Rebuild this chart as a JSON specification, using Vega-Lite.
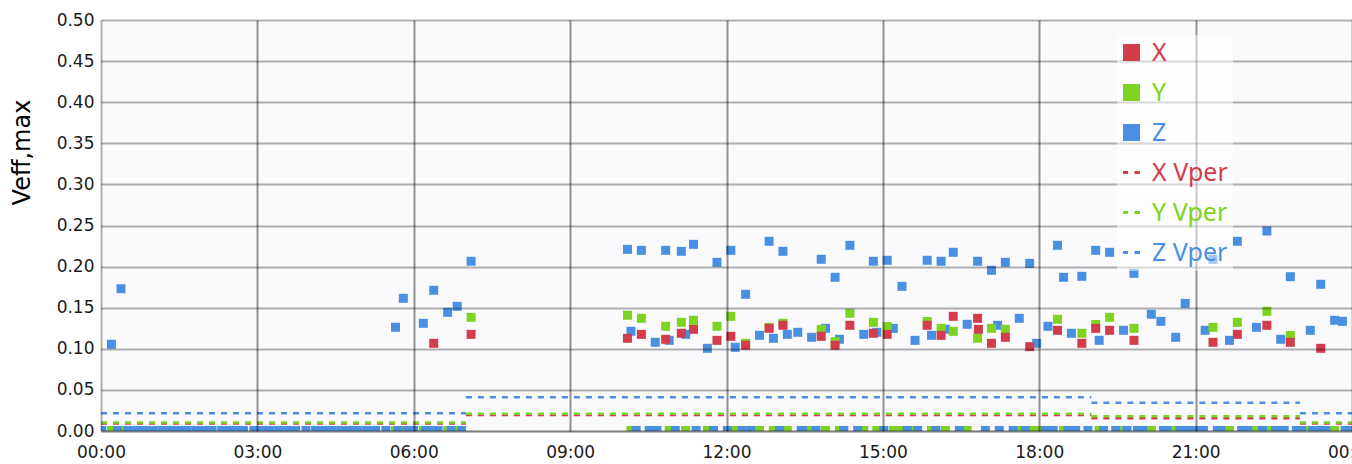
{
  "$schema": "https://vega.github.io/schema/vega-lite/v6.json",
  "width": 1251,
  "height": 411,
  "autosize": "none",
  "padding": {"left": 101, "top": 20, "right": 0, "bottom": 33},
  "background": "#ffffff",
  "config": {"view": {"fill": "#fafafd", "stroke": null}},
  "datasets": {
    "lim": [
      {"s": "X Vper", "t0": 0, "t1": 7, "v": 0.0091},
      {"s": "X Vper", "t0": 7, "t1": 19, "v": 0.0195},
      {"s": "X Vper", "t0": 19, "t1": 23, "v": 0.0154},
      {"s": "X Vper", "t0": 23, "t1": 24, "v": 0.009},
      {"s": "Y Vper", "t0": 0, "t1": 7, "v": 0.0103},
      {"s": "Y Vper", "t0": 7, "t1": 19, "v": 0.0209},
      {"s": "Y Vper", "t0": 19, "t1": 23, "v": 0.018},
      {"s": "Y Vper", "t0": 23, "t1": 24, "v": 0.0103},
      {"s": "Z Vper", "t0": 0, "t1": 7, "v": 0.0217},
      {"s": "Z Vper", "t0": 7, "t1": 19, "v": 0.0411},
      {"s": "Z Vper", "t0": 19, "t1": 23, "v": 0.0343},
      {"s": "Z Vper", "t0": 23, "t1": 24, "v": 0.0217}
    ],
    "pts": [
      {"s": "Z", "t": 0.2, "v": 0.1055}, {"s": "Z", "t": 0.383, "v": 0.1731},
      {"s": "Z", "t": 5.65, "v": 0.1262}, {"s": "Z", "t": 5.8, "v": 0.1614},
      {"s": "Z", "t": 6.183, "v": 0.131}, {"s": "Z", "t": 6.383, "v": 0.1712},
      {"s": "Z", "t": 6.65, "v": 0.1444}, {"s": "Z", "t": 6.833, "v": 0.1517},
      {"s": "Z", "t": 7.1, "v": 0.2065},
      {"s": "X", "t": 6.383, "v": 0.1067}, {"s": "X", "t": 7.1, "v": 0.1176},
      {"s": "Y", "t": 7.1, "v": 0.1383},

      {"s": "Z", "t": 10.1, "v": 0.221}, {"s": "Z", "t": 10.367, "v": 0.2198},
      {"s": "Z", "t": 10.833, "v": 0.2198}, {"s": "Z", "t": 11.133, "v": 0.2186},
      {"s": "Z", "t": 11.367, "v": 0.2271}, {"s": "Z", "t": 11.817, "v": 0.2052},
      {"s": "Z", "t": 12.083, "v": 0.2198}, {"s": "Z", "t": 12.367, "v": 0.1663},
      {"s": "Z", "t": 12.817, "v": 0.2308}, {"s": "Z", "t": 13.083, "v": 0.2186},
      {"s": "Z", "t": 13.817, "v": 0.2089}, {"s": "Z", "t": 14.083, "v": 0.187},
      {"s": "Z", "t": 14.367, "v": 0.2259}, {"s": "Z", "t": 14.817, "v": 0.2065},
      {"s": "Z", "t": 15.083, "v": 0.2077}, {"s": "Z", "t": 15.367, "v": 0.176},
      {"s": "Z", "t": 15.85, "v": 0.2077}, {"s": "Z", "t": 16.117, "v": 0.2065},
      {"s": "Z", "t": 16.35, "v": 0.2174}, {"s": "Z", "t": 16.817, "v": 0.2065},
      {"s": "Z", "t": 17.083, "v": 0.1955}, {"s": "Z", "t": 17.35, "v": 0.2052},
      {"s": "Z", "t": 17.817, "v": 0.204}, {"s": "Z", "t": 18.35, "v": 0.2259},
      {"s": "Z", "t": 18.467, "v": 0.187}, {"s": "Z", "t": 18.817, "v": 0.1882},
      {"s": "Z", "t": 19.083, "v": 0.2198}, {"s": "Z", "t": 19.35, "v": 0.2174},
      {"s": "Z", "t": 19.817, "v": 0.1918}, {"s": "Z", "t": 20.8, "v": 0.1553},
      {"s": "Z", "t": 21.333, "v": 0.2089}, {"s": "Z", "t": 21.8, "v": 0.2308},
      {"s": "Z", "t": 22.367, "v": 0.2433}, {"s": "Z", "t": 22.817, "v": 0.1877},
      {"s": "Z", "t": 23.4, "v": 0.1785},

      {"s": "Z", "t": 10.167, "v": 0.1213}, {"s": "Z", "t": 10.633, "v": 0.1079},
      {"s": "Z", "t": 10.9, "v": 0.1103}, {"s": "Z", "t": 11.217, "v": 0.1176},
      {"s": "Z", "t": 11.633, "v": 0.1006}, {"s": "Z", "t": 12.167, "v": 0.1018},
      {"s": "Z", "t": 12.633, "v": 0.1164}, {"s": "Z", "t": 12.9, "v": 0.1128},
      {"s": "Z", "t": 13.167, "v": 0.1176}, {"s": "Z", "t": 13.367, "v": 0.1201},
      {"s": "Z", "t": 13.633, "v": 0.114}, {"s": "Z", "t": 13.9, "v": 0.1249},
      {"s": "Z", "t": 14.167, "v": 0.1116}, {"s": "Z", "t": 14.633, "v": 0.1176},
      {"s": "Z", "t": 14.883, "v": 0.1201}, {"s": "Z", "t": 15.2, "v": 0.1249},
      {"s": "Z", "t": 15.617, "v": 0.1103}, {"s": "Z", "t": 15.933, "v": 0.1164},
      {"s": "Z", "t": 16.2, "v": 0.1237}, {"s": "Z", "t": 16.617, "v": 0.1298},
      {"s": "Z", "t": 17.2, "v": 0.1286}, {"s": "Z", "t": 17.617, "v": 0.1371},
      {"s": "Z", "t": 17.95, "v": 0.1067}, {"s": "Z", "t": 18.167, "v": 0.1274},
      {"s": "Z", "t": 18.617, "v": 0.1189}, {"s": "Z", "t": 19.15, "v": 0.1103},
      {"s": "Z", "t": 19.617, "v": 0.1225}, {"s": "Z", "t": 20.15, "v": 0.142},
      {"s": "Z", "t": 20.333, "v": 0.1334}, {"s": "Z", "t": 20.617, "v": 0.114},
      {"s": "Z", "t": 21.183, "v": 0.1225}, {"s": "Z", "t": 21.65, "v": 0.1103},
      {"s": "Z", "t": 22.167, "v": 0.1261}, {"s": "Z", "t": 22.633, "v": 0.1116},
      {"s": "Z", "t": 23.2, "v": 0.1225}, {"s": "Z", "t": 23.667, "v": 0.1347},
      {"s": "Z", "t": 23.817, "v": 0.1334},

      {"s": "Y", "t": 10.1, "v": 0.1408}, {"s": "Y", "t": 10.367, "v": 0.1371},
      {"s": "Y", "t": 10.833, "v": 0.1274}, {"s": "Y", "t": 11.133, "v": 0.1322},
      {"s": "Y", "t": 11.367, "v": 0.1347}, {"s": "Y", "t": 11.817, "v": 0.1274},
      {"s": "Y", "t": 12.083, "v": 0.1395}, {"s": "Y", "t": 12.367, "v": 0.1067},
      {"s": "Y", "t": 12.817, "v": 0.126}, {"s": "Y", "t": 13.083, "v": 0.131},
      {"s": "Y", "t": 13.817, "v": 0.1237}, {"s": "Y", "t": 14.083, "v": 0.1087},
      {"s": "Y", "t": 14.367, "v": 0.1432}, {"s": "Y", "t": 14.817, "v": 0.1322},
      {"s": "Y", "t": 15.083, "v": 0.1271}, {"s": "Y", "t": 15.85, "v": 0.1332},
      {"s": "Y", "t": 16.117, "v": 0.1249}, {"s": "Y", "t": 16.35, "v": 0.1213},
      {"s": "Y", "t": 16.817, "v": 0.1128}, {"s": "Y", "t": 17.083, "v": 0.1249},
      {"s": "Y", "t": 17.35, "v": 0.1237}, {"s": "Y", "t": 18.35, "v": 0.1359},
      {"s": "Y", "t": 18.817, "v": 0.1189}, {"s": "Y", "t": 19.083, "v": 0.1296},
      {"s": "Y", "t": 19.35, "v": 0.1383}, {"s": "Y", "t": 19.817, "v": 0.1249},
      {"s": "Y", "t": 21.333, "v": 0.1261}, {"s": "Y", "t": 21.8, "v": 0.1322},
      {"s": "Y", "t": 22.367, "v": 0.1456}, {"s": "Y", "t": 22.817, "v": 0.1162},

      {"s": "X", "t": 10.1, "v": 0.1128}, {"s": "X", "t": 10.367, "v": 0.1176},
      {"s": "X", "t": 10.833, "v": 0.1116}, {"s": "X", "t": 11.133, "v": 0.1189},
      {"s": "X", "t": 11.367, "v": 0.1237}, {"s": "X", "t": 11.817, "v": 0.1103},
      {"s": "X", "t": 12.083, "v": 0.1152}, {"s": "X", "t": 12.367, "v": 0.1043},
      {"s": "X", "t": 12.817, "v": 0.1249}, {"s": "X", "t": 13.083, "v": 0.1286},
      {"s": "X", "t": 13.817, "v": 0.1152}, {"s": "X", "t": 14.083, "v": 0.1043},
      {"s": "X", "t": 14.367, "v": 0.1286}, {"s": "X", "t": 14.817, "v": 0.1189},
      {"s": "X", "t": 15.083, "v": 0.1176}, {"s": "X", "t": 15.85, "v": 0.1286},
      {"s": "X", "t": 16.117, "v": 0.1164}, {"s": "X", "t": 16.35, "v": 0.1395},
      {"s": "X", "t": 16.817, "v": 0.1371}, {"s": "X", "t": 16.833, "v": 0.1237},
      {"s": "X", "t": 17.083, "v": 0.1067}, {"s": "X", "t": 17.35, "v": 0.114},
      {"s": "X", "t": 17.817, "v": 0.1026}, {"s": "X", "t": 18.35, "v": 0.1225},
      {"s": "X", "t": 18.817, "v": 0.1067}, {"s": "X", "t": 19.083, "v": 0.1249},
      {"s": "X", "t": 19.35, "v": 0.1225}, {"s": "X", "t": 19.817, "v": 0.1103},
      {"s": "X", "t": 21.333, "v": 0.1079}, {"s": "X", "t": 21.8, "v": 0.1176},
      {"s": "X", "t": 22.367, "v": 0.1286}, {"s": "X", "t": 22.817, "v": 0.1079},
      {"s": "X", "t": 23.4, "v": 0.1006},

      {"s": "Y", "t": 0.2, "v": 0.0006}, {"s": "Y", "t": 0.383, "v": 0.0006},
      {"s": "Y", "t": 5.65, "v": 0.0006}, {"s": "Y", "t": 5.8, "v": 0.0006},
      {"s": "Y", "t": 6.183, "v": 0.0006}, {"s": "Y", "t": 6.65, "v": 0.0006},
      {"s": "Y", "t": 6.85, "v": 0.0006},

      {"s": "Z", "t": 0.017, "v": 0.0006}, {"s": "Z", "t": 0.317, "v": 0.0006},
      {"s": "Z", "t": 0.517, "v": 0.0006}, {"s": "Z", "t": 0.683, "v": 0.0006},
      {"s": "Z", "t": 0.833, "v": 0.0006}, {"s": "Z", "t": 1.0, "v": 0.0006},
      {"s": "Z", "t": 1.167, "v": 0.0006}, {"s": "Z", "t": 1.333, "v": 0.0006},
      {"s": "Z", "t": 1.5, "v": 0.0006}, {"s": "Z", "t": 1.65, "v": 0.0006},
      {"s": "Z", "t": 1.817, "v": 0.0006}, {"s": "Z", "t": 1.983, "v": 0.0006},
      {"s": "Z", "t": 2.133, "v": 0.0006}, {"s": "Z", "t": 2.317, "v": 0.0006},
      {"s": "Z", "t": 2.483, "v": 0.0006}, {"s": "Z", "t": 2.65, "v": 0.0006},
      {"s": "Z", "t": 2.733, "v": 0.0006}, {"s": "Z", "t": 2.933, "v": 0.0006},
      {"s": "Z", "t": 3.083, "v": 0.0006}, {"s": "Z", "t": 3.25, "v": 0.0006},
      {"s": "Z", "t": 3.417, "v": 0.0006}, {"s": "Z", "t": 3.583, "v": 0.0006},
      {"s": "Z", "t": 3.733, "v": 0.0006}, {"s": "Z", "t": 3.933, "v": 0.0006},
      {"s": "Z", "t": 4.117, "v": 0.0006}, {"s": "Z", "t": 4.283, "v": 0.0006},
      {"s": "Z", "t": 4.433, "v": 0.0006}, {"s": "Z", "t": 4.6, "v": 0.0006},
      {"s": "Z", "t": 4.767, "v": 0.0006}, {"s": "Z", "t": 4.933, "v": 0.0006},
      {"s": "Z", "t": 5.1, "v": 0.0006}, {"s": "Z", "t": 5.267, "v": 0.0006},
      {"s": "Z", "t": 5.467, "v": 0.0006}, {"s": "Z", "t": 5.7, "v": 0.0006},
      {"s": "Z", "t": 5.883, "v": 0.0006}, {"s": "Z", "t": 6.0, "v": 0.0006},
      {"s": "Z", "t": 6.233, "v": 0.0006}, {"s": "Z", "t": 6.3, "v": 0.0006},
      {"s": "Z", "t": 6.467, "v": 0.0006}, {"s": "Z", "t": 6.717, "v": 0.0006},
      {"s": "Z", "t": 6.917, "v": 0.0006},

      {"s": "Y", "t": 10.167, "v": 0.0006}, {"s": "Y", "t": 10.633, "v": 0.0006},
      {"s": "Y", "t": 10.9, "v": 0.0006}, {"s": "Y", "t": 11.217, "v": 0.0006},
      {"s": "Y", "t": 11.633, "v": 0.0006}, {"s": "Y", "t": 12.167, "v": 0.0006},
      {"s": "Y", "t": 12.633, "v": 0.0006}, {"s": "Y", "t": 12.9, "v": 0.0006},
      {"s": "Y", "t": 13.167, "v": 0.0006}, {"s": "Y", "t": 13.633, "v": 0.0006},
      {"s": "Y", "t": 13.9, "v": 0.0006}, {"s": "Y", "t": 14.167, "v": 0.0006},
      {"s": "Y", "t": 14.633, "v": 0.0006}, {"s": "Y", "t": 14.883, "v": 0.0006},
      {"s": "Y", "t": 15.2, "v": 0.0006}, {"s": "Y", "t": 15.367, "v": 0.0006},
      {"s": "Y", "t": 15.617, "v": 0.0006}, {"s": "Y", "t": 15.933, "v": 0.0006},
      {"s": "Y", "t": 16.2, "v": 0.0006}, {"s": "Y", "t": 16.617, "v": 0.0006},
      {"s": "Y", "t": 17.617, "v": 0.0006}, {"s": "Y", "t": 17.817, "v": 0.0006},
      {"s": "Y", "t": 17.95, "v": 0.0006}, {"s": "Y", "t": 18.467, "v": 0.0006},
      {"s": "Y", "t": 18.617, "v": 0.0006}, {"s": "Y", "t": 19.15, "v": 0.0006},
      {"s": "Y", "t": 19.617, "v": 0.0006}, {"s": "Y", "t": 20.15, "v": 0.0006},
      {"s": "Y", "t": 20.617, "v": 0.0006}, {"s": "Y", "t": 21.65, "v": 0.0006},
      {"s": "Y", "t": 22.167, "v": 0.0006}, {"s": "Y", "t": 22.433, "v": 0.0006},
      {"s": "Y", "t": 22.633, "v": 0.0006}, {"s": "Y", "t": 23.2, "v": 0.0006},
      {"s": "Y", "t": 23.667, "v": 0.0006},

      {"s": "Z", "t": 10.267, "v": 0.0006}, {"s": "Z", "t": 10.517, "v": 0.0006},
      {"s": "Z", "t": 10.667, "v": 0.0006}, {"s": "Z", "t": 11.017, "v": 0.0006},
      {"s": "Z", "t": 11.417, "v": 0.0006}, {"s": "Z", "t": 11.75, "v": 0.0006},
      {"s": "Z", "t": 12.017, "v": 0.0006}, {"s": "Z", "t": 12.3, "v": 0.0006},
      {"s": "Z", "t": 12.467, "v": 0.0006}, {"s": "Z", "t": 13.017, "v": 0.0006},
      {"s": "Z", "t": 13.433, "v": 0.0006}, {"s": "Z", "t": 13.467, "v": 0.0006},
      {"s": "Z", "t": 13.717, "v": 0.0006}, {"s": "Z", "t": 14.25, "v": 0.0006},
      {"s": "Z", "t": 14.517, "v": 0.0006}, {"s": "Z", "t": 15.017, "v": 0.0006},
      {"s": "Z", "t": 15.467, "v": 0.0006}, {"s": "Z", "t": 15.667, "v": 0.0006},
      {"s": "Z", "t": 16.017, "v": 0.0006}, {"s": "Z", "t": 16.467, "v": 0.0006},
      {"s": "Z", "t": 16.967, "v": 0.0006}, {"s": "Z", "t": 17.233, "v": 0.0006},
      {"s": "Z", "t": 17.5, "v": 0.0006}, {"s": "Z", "t": 17.733, "v": 0.0006},
      {"s": "Z", "t": 18.117, "v": 0.0006}, {"s": "Z", "t": 18.267, "v": 0.0006},
      {"s": "Z", "t": 18.55, "v": 0.0006}, {"s": "Z", "t": 18.7, "v": 0.0006},
      {"s": "Z", "t": 18.933, "v": 0.0006}, {"s": "Z", "t": 19.233, "v": 0.0006},
      {"s": "Z", "t": 19.467, "v": 0.0006}, {"s": "Z", "t": 19.683, "v": 0.0006},
      {"s": "Z", "t": 19.883, "v": 0.0006}, {"s": "Z", "t": 19.983, "v": 0.0006},
      {"s": "Z", "t": 20.383, "v": 0.0006}, {"s": "Z", "t": 20.45, "v": 0.0006},
      {"s": "Z", "t": 20.7, "v": 0.0006}, {"s": "Z", "t": 20.85, "v": 0.0006},
      {"s": "Z", "t": 21.0, "v": 0.0006}, {"s": "Z", "t": 21.15, "v": 0.0006},
      {"s": "Z", "t": 21.417, "v": 0.0006}, {"s": "Z", "t": 21.483, "v": 0.0006},
      {"s": "Z", "t": 21.883, "v": 0.0006}, {"s": "Z", "t": 22.0, "v": 0.0006},
      {"s": "Z", "t": 22.283, "v": 0.0006}, {"s": "Z", "t": 22.533, "v": 0.0006},
      {"s": "Z", "t": 22.7, "v": 0.0006}, {"s": "Z", "t": 22.933, "v": 0.0006},
      {"s": "Z", "t": 23.033, "v": 0.0006}, {"s": "Z", "t": 23.25, "v": 0.0006},
      {"s": "Z", "t": 23.367, "v": 0.0006}, {"s": "Z", "t": 23.5, "v": 0.0006},
      {"s": "Z", "t": 23.867, "v": 0.0006}, {"s": "Z", "t": 23.967, "v": 0.0006}
    ]
  },
  "layer": [
    {
      "data": {"name": "lim"},
      "mark": {"type": "rule", "strokeDash": [6, 6], "strokeWidth": 2.5},
      "encoding": {
        "x": {"field": "t0", "type": "quantitative", "title": null},
        "x2": {"field": "t1"},
        "y": {"field": "v", "type": "quantitative", "title": "Veff,max"},
        "color": {"field": "s", "type": "nominal"}
      }
    },
    {
      "data": {"name": "pts"},
      "mark": {"type": "square", "size": 81, "opacity": 1, "clip": true},
      "encoding": {
        "x": {
          "field": "t", "type": "quantitative", "title": null,
          "scale": {"domain": [0, 24], "nice": false, "zero": false},
          "axis": {
            "values": [0, 3, 6, 9, 12, 15, 18, 21, 24],
            "labelExpr": "(datum.value % 24 < 10 ? '0' : '') + (datum.value % 24) + ':00'",
            "grid": true, "gridColor": "#000000", "gridWidth": 2,
            "gridOpacity": {"condition": {"test": "datum.value % 24 === 0", "value": 0.3}, "value": 0.42},
            "ticks": false, "domain": true, "domainColor": "#000000", "domainOpacity": 0.3, "domainWidth": 2,
            "labelFont": "DejaVu Sans", "labelFontSize": 17, "labelColor": "#1a1a1a", "labelPadding": 13,
            "labelFlush": false, "labelOverlap": false, "zindex": 1
          }
        },
        "y": {
          "field": "v", "type": "quantitative", "title": "Veff,max",
          "scale": {"domain": [0, 0.5], "nice": false},
          "axis": {
            "values": [0, 0.05, 0.1, 0.15, 0.2, 0.25, 0.3, 0.35, 0.4, 0.45, 0.5],
            "format": ".2f", "grid": true, "gridColor": "#000000", "gridOpacity": 0.3, "gridWidth": 2,
            "ticks": false, "domain": false,
            "labelFont": "DejaVu Sans", "labelFontSize": 17, "labelColor": "#1a1a1a", "labelPadding": 7,
            "titleFont": "DejaVu Sans", "titleFontSize": 24, "titleFontWeight": "normal", "titleColor": "#000000",
            "titleX": -79, "titleY": 132, "titleAlign": "center", "titleBaseline": "middle", "titleAngle": 270,
            "zindex": 1
          }
        },
        "color": {
          "field": "s", "type": "nominal",
          "scale": {
            "domain": ["X", "Y", "Z", "X Vper", "Y Vper", "Z Vper"],
            "range": ["#d23c4b", "#7ed321", "#4a90e2", "#d23c4b", "#7ed321", "#4a90e2"]
          },
          "legend": {
            "orient": "none", "legendX": 1016, "legendY": 15, "title": null, "direction": "vertical",
            "fillColor": "rgba(255,255,255,0.5)", "padding": 5, "rowPadding": 14,
            "symbolSize": 289, "symbolType": "square", "symbolStrokeWidth": 0, "symbolOpacity": 1,
            "symbolOffset": -3,
            "labelFont": "Noto Sans", "labelFontSize": 25, "labelOffset": 8, "labelLimit": 400, "zindex": 2,
            "encode": {
              "symbols": {"update": {
                "shape": {"signal": "indexof(datum.value, 'Vper') >= 0 ? 'M-1,-0.18H-0.4V0.18H-1ZM0.35,-0.18H1V0.18H0.35Z' : 'square'"},
                "fill": {"scale": "color", "field": "value"},
                "stroke": {"value": "transparent"},
                "opacity": {"value": 1}
              }},
              "labels": {"update": {"fill": {"scale": "color", "field": "value"}}}
            }
          }
        },
        "order": [{"field": "t", "type": "quantitative"}, {"field": "s", "type": "ordinal", "sort": "descending"}]
      }
    }
  ]
}
